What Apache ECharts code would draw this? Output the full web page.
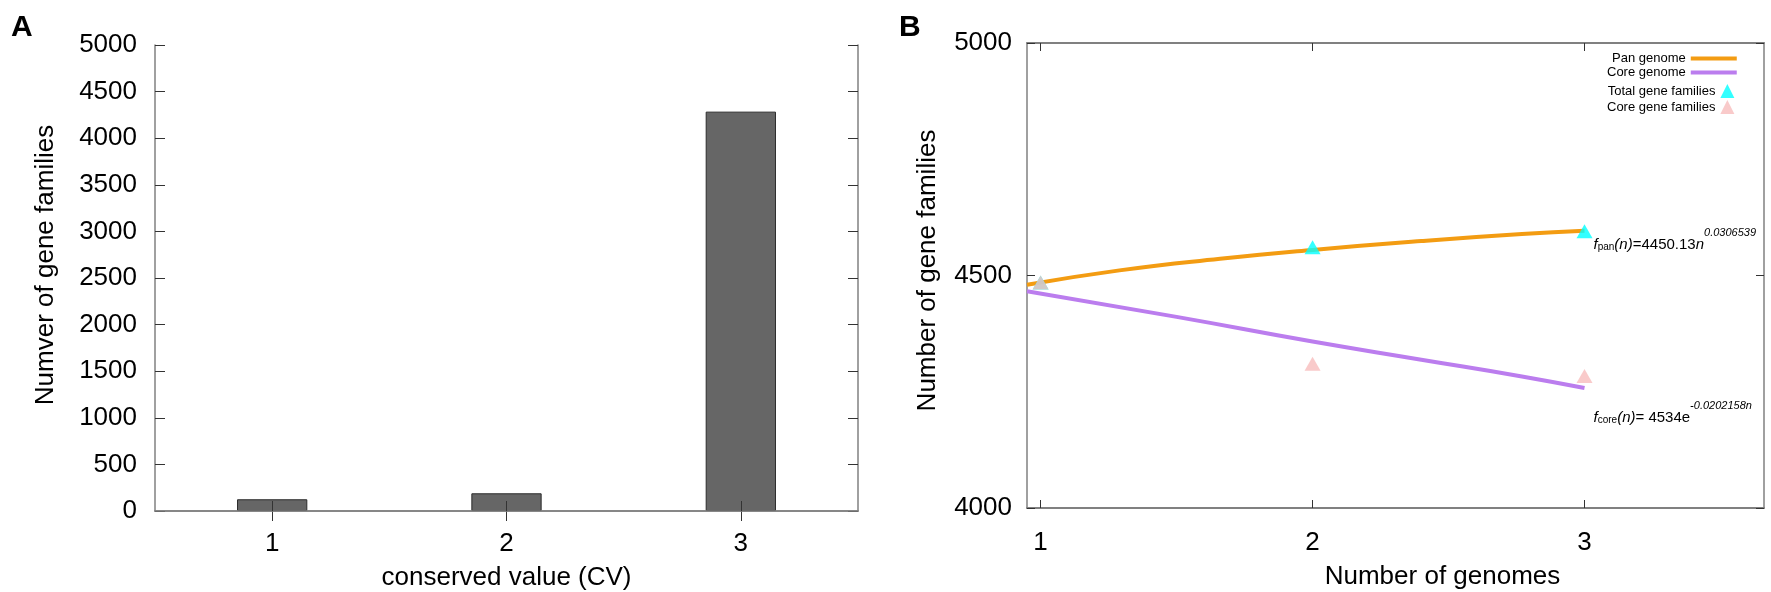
<!DOCTYPE html>
<html>
<head>
<meta charset="utf-8">
<script src="https://cdn.jsdelivr.net/npm/echarts@6/dist/echarts.min.js"></script>
<style>
  html, body { margin: 0; padding: 0; background: #fff; }
  #main { width: 1771px; height: 592px; }
</style>
</head>
<body>
<div id="main"></div>
<script>
// panel A: gene families per conserved value
var cvCategories = ["1", "2", "3"];
var cvCounts = [126, 190, 4285];

// panel B: pan / core genome curves and observed points
var panCurve = [[0.95, 4480], [1.29, 4511], [1.66, 4536], [2, 4555], [2.4, 4574], [2.77, 4589], [3, 4596]];
var coreCurve = [[0.95, 4466], [1.5, 4411], [2, 4358], [2.4, 4319], [2.77, 4283], [3, 4258]];
var totalFamilies = [[1, 4485], [2, 4561], [3, 4595]];
var coreFamilies = [[1, 4485], [2, 4310], [3, 4284]];
var genomeTicks = [1, 2, 3];

var FONT = "Liberation Sans, Arial, sans-serif";
var AXIS_GREY = "#808080";

var chartDom = document.getElementById("main");
var myChart = echarts.init(chartDom, null, { renderer: "canvas" });

function frameAxis(extra) {
  return Object.assign({
    axisLine: { show: true, lineStyle: { color: AXIS_GREY, width: 1.5 } },
    axisTick: { show: true, inside: true, length: 10, lineStyle: { color: "#333", width: 1 } },
    axisLabel: { show: false },
    splitLine: { show: false }
  }, extra);
}

function plain(v) { return String(v); }

var labelStyle = { color: "#000", fontFamily: FONT, fontSize: 26, formatter: plain };
var nameStyle = { color: "#000", fontFamily: FONT, fontSize: 26 };

var rich = {
  i: { fontStyle: "italic", fontSize: 15, fontFamily: FONT, color: "#000" },
  s: { fontSize: 10, fontFamily: FONT, color: "#000", padding: [4, 0, 0, 0] },
  n: { fontSize: 15, fontFamily: FONT, color: "#000" },
  sup: { fontStyle: "italic", fontSize: 11, fontFamily: FONT, color: "#000", padding: [0, 0, 24, 0] }
};

var option = {
  animation: false,
  backgroundColor: "#fff",
  title: [
    { text: "A", left: 6, top: 8, textStyle: { fontFamily: FONT, fontSize: 30, fontWeight: "bold", color: "#000" } },
    { text: "B", left: 894, top: 8, textStyle: { fontFamily: FONT, fontSize: 30, fontWeight: "bold", color: "#000" } }
  ],
  legend: [
    {
      left: 1607, top: 52, orient: "vertical", align: "right",
      itemWidth: 46, itemHeight: 4, itemGap: 1, padding: 0,
      icon: "rect",
      textStyle: { fontFamily: FONT, fontSize: 13, color: "#000" },
      data: ["Pan genome", "Core genome"]
    },
    {
      left: 1607, top: 84, orient: "vertical", align: "right",
      itemWidth: 14, itemHeight: 14, itemGap: 2, padding: 0,
      icon: "triangle",
      textStyle: { fontFamily: FONT, fontSize: 13, color: "#000" },
      data: ["Total gene families", "Core gene families"]
    }
  ],
  grid: [
    { left: 155, right: 913, top: 45, bottom: 81, outerBoundsMode: "none", containLabel: false },
    { left: 1027, right: 7, top: 43, bottom: 84, outerBoundsMode: "none", containLabel: false }
  ],
  xAxis: [
    frameAxis({
      gridIndex: 0, type: "category", data: cvCategories, position: "bottom", z: 5,
      axisTick: { show: true, inside: true, length: 10, alignWithLabel: true, lineStyle: { color: "#333" } },
      axisLabel: Object.assign({ show: true, margin: 20 }, labelStyle),
      name: "conserved value (CV)", nameLocation: "middle", nameGap: 54, nameTextStyle: nameStyle
    }),
    frameAxis({
      gridIndex: 0, type: "category", data: cvCategories, position: "top",
      axisTick: { show: true, inside: true, length: 10, alignWithLabel: true, lineStyle: { color: "#333" } }
    }),
    frameAxis({
      gridIndex: 1, type: "value", min: 0.95, max: 3.66, position: "bottom",
      axisLine: { show: true, lineStyle: { color: AXIS_GREY, width: 2 } },
      axisTick: { show: true, inside: true, length: 8, customValues: genomeTicks, lineStyle: { color: "#333" } },
      axisLabel: Object.assign({ show: true, margin: 22, customValues: genomeTicks }, labelStyle),
      name: "Number of genomes", nameLocation: "middle", nameGap: 56,
      nameTextStyle: Object.assign({ padding: [0, 0, 0, 94] }, nameStyle)
    }),
    frameAxis({
      gridIndex: 1, type: "value", min: 0.95, max: 3.66, position: "top",
      axisLine: { show: true, lineStyle: { color: AXIS_GREY, width: 2 } },
      axisTick: { show: true, inside: true, length: 8, customValues: genomeTicks, lineStyle: { color: "#333" } }
    })
  ],
  yAxis: [
    frameAxis({
      gridIndex: 0, type: "value", min: 0, max: 5000, interval: 500, position: "left",
      axisLabel: Object.assign({ show: true, margin: 18 }, labelStyle),
      name: "Numver of gene families", nameLocation: "middle", nameGap: 96, nameRotate: 90,
      nameTextStyle: Object.assign({ padding: [0, 0, 0, 26] }, nameStyle)
    }),
    frameAxis({ gridIndex: 0, type: "value", min: 0, max: 5000, interval: 500, position: "right" }),
    frameAxis({
      gridIndex: 1, type: "value", min: 4000, max: 5000, interval: 500, position: "left",
      axisTick: { show: true, inside: true, length: 8, lineStyle: { color: "#333" } },
      axisLabel: Object.assign({ show: true, margin: 15 }, labelStyle),
      name: "Number of gene families", nameLocation: "middle", nameGap: 86, nameRotate: 90,
      nameTextStyle: Object.assign({ padding: [0, 0, 0, 10] }, nameStyle)
    }),
    frameAxis({
      gridIndex: 1, type: "value", min: 4000, max: 5000, interval: 500, position: "right",
      axisTick: { show: true, inside: true, length: 8, lineStyle: { color: "#333" } }
    })
  ],
  series: [
    {
      name: "CV", type: "bar", xAxisIndex: 0, yAxisIndex: 0,
      data: cvCounts, barWidth: "30%",
      itemStyle: { color: "#666666", borderColor: "#2b2b2b", borderWidth: 1 }
    },
    {
      name: "Pan genome", type: "line", xAxisIndex: 2, yAxisIndex: 2,
      data: panCurve, smooth: 0.5, showSymbol: false, z: 3,
      lineStyle: { color: "#F39C12", width: 4 }, itemStyle: { color: "#F39C12" }
    },
    {
      name: "Core genome", type: "line", xAxisIndex: 2, yAxisIndex: 2,
      data: coreCurve, smooth: 0.5, showSymbol: false, z: 3,
      lineStyle: { color: "#BB7DEE", width: 4 }, itemStyle: { color: "#BB7DEE" }
    },
    {
      name: "Total gene families", type: "scatter", xAxisIndex: 2, yAxisIndex: 2,
      data: totalFamilies, symbol: "triangle", symbolSize: [16, 14], z: 4,
      itemStyle: { color: "#00FFFF" },
      markPoint: {
        symbol: "circle", symbolSize: 0,
        label: { show: true, position: "right", distance: 0, offset: [9, 14], rich: rich,
          formatter: "{i|f}{s|pan}{i|(n)}{n|=4450.13}{i|n}{sup|0.0306539}" },
        data: [{ coord: totalFamilies[2] }]
      }
    },
    {
      name: "Core gene families", type: "scatter", xAxisIndex: 2, yAxisIndex: 2,
      data: coreFamilies, symbol: "triangle", symbolSize: [16, 14], z: 5,
      itemStyle: { color: "#F8BDBD" },
      markPoint: {
        symbol: "circle", symbolSize: 0,
        label: { show: true, position: "right", distance: 0, offset: [9, 42], rich: rich,
          formatter: "{i|f}{s|core}{i|(n)}{n|= 4534e}{sup|-0.0202158n}" },
        data: [{ coord: coreFamilies[2] }]
      }
    }
  ]
};

option && myChart.setOption(option);
</script>
</body>
</html>
